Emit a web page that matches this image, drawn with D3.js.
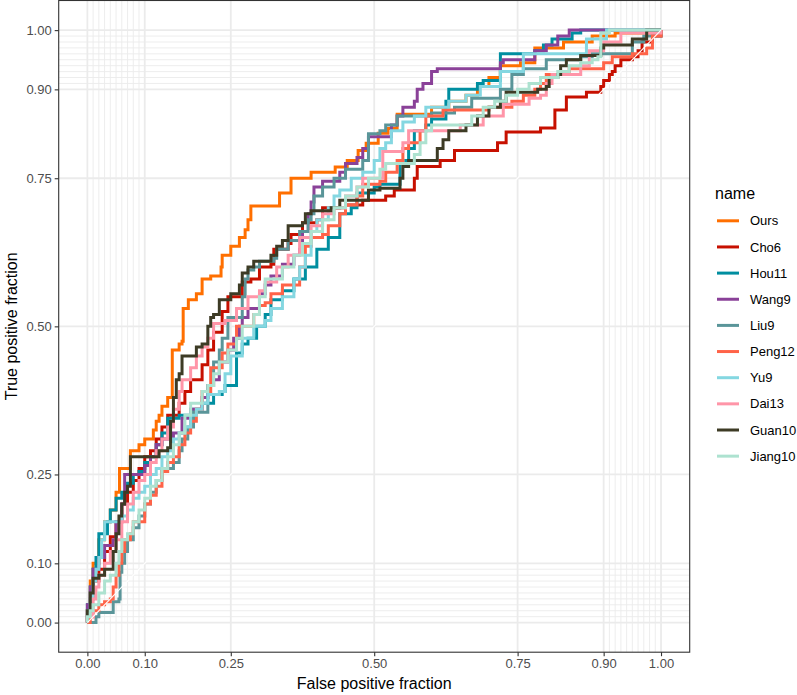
<!DOCTYPE html>
<html><head><meta charset="utf-8">
<script src="https://cdn.jsdelivr.net/npm/d3@7"></script>
<style>body{margin:0;background:#fff}svg{display:block;font-family:"Liberation Sans",Arial,sans-serif}</style>
</head><body><svg id="c" width="797" height="695"></svg>
<script>
const seriesNames = ["Ours","Cho6","Hou11","Wang9","Liu9","Peng12","Yu9","Dai13","Guan10","Jiang10"];
const seriesColors = ["#FF6F00","#C71000","#008EA0","#8A4198","#5A9599","#FF6348","#84D7E1","#FF95A8","#3D3B25","#ADE2D0"];
const majorBreaks = [0,0.1,0.25,0.5,0.75,0.9,1];
const minorBreaks = [0.01,0.02,0.03,0.04,0.05,0.06,0.07,0.08,0.09,0.91,0.92,0.93,0.94,0.95,0.96,0.97,0.98,0.99];

const ours = [[0,0],[0,0.02],[0.005,0.07],[0.01,0.10],[0.02,0.14],[0.03,0.17],[0.04,0.19],[0.05,0.22],[0.056,0.26],[0.075,0.29],[0.09,0.30],[0.1,0.31],[0.115,0.325],[0.12,0.34],[0.125,0.35],[0.13,0.365],[0.14,0.38],[0.148,0.39],[0.148,0.46],[0.16,0.47],[0.165,0.475],[0.167,0.53],[0.176,0.545],[0.19,0.555],[0.2,0.58],[0.215,0.585],[0.233,0.6],[0.235,0.62],[0.25,0.635],[0.265,0.65],[0.275,0.663],[0.28,0.68],[0.285,0.703],[0.33,0.703],[0.335,0.725],[0.35,0.725],[0.355,0.75],[0.385,0.75],[0.39,0.76],[0.432,0.769],[0.453,0.78],[0.472,0.797],[0.486,0.809],[0.507,0.826],[0.524,0.834],[0.54,0.858],[0.568,0.858],[0.6,0.87],[0.63,0.88],[0.66,0.89],[0.68,0.905],[0.70,0.92],[0.72,0.94],[0.755,0.945],[0.78,0.97],[0.83,0.98],[0.88,0.99],[0.92,0.995],[1,1]];
const cho6 = [[0,0],[0,0.02],[0.005,0.04],[0.01,0.07],[0.02,0.09],[0.03,0.12],[0.04,0.145],[0.05,0.17],[0.06,0.2],[0.07,0.22],[0.08,0.24],[0.09,0.26],[0.1,0.28],[0.11,0.29],[0.12,0.31],[0.13,0.33],[0.14,0.35],[0.16,0.37],[0.17,0.39],[0.18,0.41],[0.2,0.435],[0.21,0.46],[0.22,0.49],[0.235,0.525],[0.245,0.55],[0.26,0.55],[0.27,0.575],[0.285,0.58],[0.3,0.6],[0.32,0.605],[0.325,0.63],[0.35,0.64],[0.355,0.655],[0.375,0.675],[0.40,0.68],[0.41,0.70],[0.45,0.705],[0.48,0.713],[0.51,0.713],[0.52,0.72],[0.535,0.73],[0.565,0.73],[0.57,0.75],[0.575,0.77],[0.60,0.77],[0.615,0.78],[0.64,0.797],[0.71,0.797],[0.715,0.81],[0.73,0.828],[0.78,0.828],[0.79,0.835],[0.81,0.835],[0.815,0.865],[0.83,0.865],[0.835,0.887],[0.865,0.887],[0.87,0.895],[0.89,0.895],[0.895,0.905],[0.9,0.915],[0.91,0.925],[0.915,0.93],[0.92,0.94],[0.93,0.95],[0.95,0.955],[0.96,0.965],[0.967,0.98],[0.985,0.99],[1,1]];
const hou11 = [[0,0],[0,0.03],[0.005,0.06],[0.01,0.09],[0.015,0.11],[0.02,0.15],[0.03,0.15],[0.035,0.17],[0.04,0.19],[0.05,0.21],[0.06,0.22],[0.07,0.235],[0.08,0.25],[0.09,0.255],[0.1,0.27],[0.11,0.28],[0.12,0.3],[0.13,0.32],[0.14,0.345],[0.16,0.35],[0.18,0.36],[0.2,0.37],[0.22,0.385],[0.235,0.39],[0.24,0.40],[0.255,0.40],[0.26,0.455],[0.27,0.47],[0.28,0.48],[0.295,0.5],[0.31,0.52],[0.32,0.545],[0.34,0.56],[0.36,0.58],[0.38,0.6],[0.40,0.63],[0.42,0.65],[0.44,0.67],[0.44,0.69],[0.46,0.7],[0.47,0.725],[0.48,0.725],[0.5,0.735],[0.51,0.74],[0.54,0.74],[0.545,0.775],[0.555,0.78],[0.56,0.8],[0.57,0.83],[0.58,0.83],[0.59,0.84],[0.6,0.85],[0.615,0.85],[0.625,0.88],[0.63,0.9],[0.67,0.9],[0.68,0.91],[0.69,0.915],[0.72,0.915],[0.72,0.96],[0.77,0.96],[0.78,0.965],[0.795,0.975],[0.81,0.985],[0.84,0.985],[0.845,0.995],[0.86,1.0],[1,1]];
const wang9 = [[0,0],[0,0.03],[0.005,0.06],[0.01,0.09],[0.02,0.11],[0.03,0.13],[0.045,0.14],[0.05,0.17],[0.06,0.2],[0.065,0.25],[0.085,0.25],[0.1,0.265],[0.11,0.28],[0.12,0.3],[0.13,0.31],[0.15,0.32],[0.165,0.345],[0.18,0.36],[0.2,0.38],[0.21,0.4],[0.22,0.41],[0.23,0.44],[0.245,0.46],[0.255,0.48],[0.265,0.5],[0.27,0.515],[0.28,0.53],[0.3,0.555],[0.31,0.57],[0.32,0.585],[0.34,0.605],[0.36,0.62],[0.37,0.63],[0.375,0.66],[0.385,0.69],[0.39,0.71],[0.395,0.735],[0.41,0.745],[0.435,0.745],[0.44,0.76],[0.45,0.775],[0.47,0.785],[0.48,0.8],[0.49,0.82],[0.52,0.82],[0.53,0.84],[0.54,0.855],[0.55,0.87],[0.57,0.88],[0.575,0.9],[0.585,0.91],[0.60,0.93],[0.61,0.935],[0.70,0.935],[0.72,0.945],[0.725,0.95],[0.77,0.95],[0.78,0.965],[0.8,0.975],[0.82,0.99],[0.84,1.0],[1,1]];
const liu9 = [[0,0],[0.01,0],[0.015,0.01],[0.02,0.017],[0.04,0.017],[0.045,0.035],[0.055,0.04],[0.057,0.085],[0.06,0.1],[0.065,0.12],[0.07,0.14],[0.08,0.16],[0.09,0.18],[0.1,0.2],[0.11,0.22],[0.12,0.24],[0.13,0.26],[0.15,0.27],[0.16,0.29],[0.165,0.31],[0.175,0.33],[0.185,0.355],[0.2,0.355],[0.21,0.4],[0.22,0.44],[0.23,0.46],[0.235,0.48],[0.245,0.515],[0.26,0.515],[0.27,0.55],[0.275,0.58],[0.28,0.595],[0.29,0.6],[0.3,0.61],[0.325,0.615],[0.33,0.63],[0.35,0.645],[0.37,0.66],[0.385,0.68],[0.39,0.69],[0.395,0.72],[0.41,0.735],[0.42,0.735],[0.43,0.75],[0.45,0.765],[0.47,0.765],[0.48,0.78],[0.49,0.80],[0.49,0.825],[0.51,0.83],[0.52,0.84],[0.535,0.84],[0.54,0.855],[0.57,0.855],[0.6,0.86],[0.64,0.87],[0.67,0.885],[0.69,0.885],[0.72,0.9],[0.74,0.925],[0.75,0.925],[0.76,0.935],[0.79,0.935],[0.8,0.95],[0.825,0.95],[0.86,0.955],[0.88,0.96],[0.93,0.96],[0.95,0.98],[0.97,0.99],[1,1]];
const peng12 = [[0,0],[0.005,0.01],[0.01,0.02],[0.02,0.03],[0.03,0.035],[0.04,0.04],[0.045,0.06],[0.05,0.08],[0.055,0.1],[0.06,0.12],[0.065,0.14],[0.075,0.15],[0.08,0.17],[0.09,0.17],[0.1,0.2],[0.11,0.215],[0.12,0.23],[0.13,0.255],[0.14,0.27],[0.15,0.28],[0.16,0.3],[0.17,0.32],[0.18,0.34],[0.19,0.36],[0.2,0.39],[0.215,0.43],[0.23,0.43],[0.235,0.455],[0.245,0.47],[0.26,0.5],[0.28,0.5],[0.29,0.52],[0.3,0.535],[0.31,0.54],[0.32,0.555],[0.34,0.57],[0.36,0.57],[0.37,0.6],[0.38,0.635],[0.39,0.65],[0.41,0.655],[0.42,0.67],[0.44,0.69],[0.45,0.705],[0.47,0.72],[0.48,0.74],[0.51,0.745],[0.52,0.76],[0.54,0.78],[0.55,0.8],[0.56,0.81],[0.58,0.83],[0.59,0.855],[0.61,0.855],[0.62,0.865],[0.67,0.865],[0.7,0.87],[0.74,0.88],[0.76,0.89],[0.78,0.9],[0.79,0.91],[0.8,0.925],[0.82,0.925],[0.84,0.935],[0.89,0.935],[0.9,0.945],[0.915,0.955],[0.93,0.955],[0.95,0.96],[0.975,0.97],[0.985,0.99],[1,1]];
const yu9 = [[0,0],[0,0.02],[0.005,0.04],[0.01,0.07],[0.015,0.09],[0.02,0.11],[0.025,0.14],[0.03,0.17],[0.055,0.17],[0.06,0.18],[0.07,0.19],[0.08,0.21],[0.09,0.22],[0.1,0.23],[0.11,0.25],[0.12,0.26],[0.13,0.28],[0.14,0.29],[0.15,0.31],[0.16,0.32],[0.17,0.33],[0.18,0.35],[0.19,0.36],[0.2,0.37],[0.21,0.385],[0.23,0.39],[0.24,0.42],[0.25,0.45],[0.27,0.48],[0.29,0.5],[0.31,0.51],[0.32,0.53],[0.34,0.55],[0.36,0.58],[0.37,0.6],[0.38,0.62],[0.39,0.66],[0.4,0.68],[0.42,0.7],[0.43,0.72],[0.44,0.73],[0.46,0.75],[0.48,0.76],[0.5,0.78],[0.51,0.8],[0.52,0.81],[0.53,0.83],[0.55,0.845],[0.57,0.855],[0.59,0.87],[0.615,0.87],[0.63,0.88],[0.66,0.89],[0.685,0.905],[0.72,0.905],[0.72,0.93],[0.76,0.93],[0.76,0.96],[0.86,0.96],[0.87,0.985],[0.905,0.985],[0.905,1],[1,1]];
const dai13 = [[0,0],[0,0.01],[0.01,0.04],[0.015,0.06],[0.02,0.08],[0.03,0.1],[0.04,0.12],[0.05,0.14],[0.06,0.17],[0.07,0.2],[0.08,0.22],[0.09,0.24],[0.1,0.25],[0.11,0.27],[0.12,0.29],[0.13,0.31],[0.14,0.33],[0.15,0.36],[0.16,0.39],[0.165,0.41],[0.18,0.43],[0.19,0.45],[0.2,0.465],[0.21,0.48],[0.22,0.505],[0.24,0.51],[0.26,0.53],[0.28,0.55],[0.3,0.56],[0.31,0.575],[0.33,0.6],[0.35,0.62],[0.37,0.65],[0.39,0.67],[0.41,0.69],[0.43,0.7],[0.45,0.72],[0.47,0.735],[0.48,0.75],[0.505,0.75],[0.515,0.795],[0.54,0.795],[0.55,0.81],[0.56,0.83],[0.625,0.83],[0.65,0.84],[0.69,0.855],[0.72,0.855],[0.725,0.875],[0.745,0.875],[0.77,0.885],[0.79,0.89],[0.8,0.91],[0.81,0.925],[0.85,0.925],[0.86,0.94],[0.875,0.965],[0.9,0.965],[0.9,0.98],[0.93,0.98],[0.93,0.995],[1,1]];
const guan10 = [[0,0],[0,0.02],[0.005,0.05],[0.01,0.075],[0.02,0.08],[0.03,0.09],[0.04,0.09],[0.045,0.12],[0.05,0.15],[0.055,0.18],[0.06,0.2],[0.065,0.22],[0.07,0.23],[0.075,0.28],[0.12,0.28],[0.125,0.29],[0.14,0.295],[0.145,0.34],[0.15,0.38],[0.155,0.41],[0.16,0.42],[0.165,0.45],[0.18,0.45],[0.19,0.465],[0.2,0.47],[0.21,0.5],[0.215,0.515],[0.22,0.52],[0.23,0.545],[0.25,0.555],[0.265,0.57],[0.27,0.59],[0.28,0.6],[0.29,0.61],[0.32,0.62],[0.33,0.635],[0.34,0.645],[0.35,0.67],[0.375,0.675],[0.38,0.69],[0.39,0.695],[0.42,0.695],[0.425,0.70],[0.44,0.713],[0.48,0.713],[0.49,0.73],[0.51,0.733],[0.54,0.733],[0.545,0.75],[0.55,0.77],[0.56,0.78],[0.60,0.78],[0.61,0.80],[0.62,0.815],[0.63,0.83],[0.645,0.83],[0.66,0.84],[0.68,0.855],[0.70,0.87],[0.72,0.88],[0.73,0.895],[0.78,0.895],[0.785,0.9],[0.8,0.905],[0.805,0.92],[0.82,0.925],[0.825,0.94],[0.835,0.95],[0.855,0.95],[0.86,0.957],[0.89,0.957],[0.895,0.97],[0.9,0.975],[0.93,0.975],[0.95,0.985],[0.97,0.985],[0.975,1.0],[1,1]];
const jiang10 = [[0,0],[0,0.01],[0.005,0.02],[0.01,0.03],[0.02,0.05],[0.03,0.07],[0.04,0.08],[0.05,0.1],[0.055,0.12],[0.06,0.14],[0.07,0.15],[0.08,0.17],[0.09,0.19],[0.1,0.21],[0.11,0.23],[0.12,0.24],[0.13,0.26],[0.14,0.28],[0.15,0.3],[0.16,0.32],[0.17,0.35],[0.18,0.37],[0.2,0.39],[0.21,0.4],[0.22,0.42],[0.23,0.44],[0.245,0.46],[0.26,0.48],[0.27,0.5],[0.29,0.52],[0.3,0.55],[0.31,0.58],[0.32,0.58],[0.34,0.6],[0.36,0.62],[0.375,0.64],[0.39,0.66],[0.41,0.68],[0.43,0.7],[0.45,0.72],[0.47,0.735],[0.49,0.75],[0.51,0.765],[0.52,0.775],[0.56,0.775],[0.57,0.79],[0.58,0.81],[0.59,0.83],[0.6,0.84],[0.65,0.84],[0.67,0.855],[0.69,0.87],[0.71,0.88],[0.73,0.89],[0.75,0.9],[0.77,0.91],[0.79,0.92],[0.82,0.93],[0.84,0.94],[0.86,0.945],[0.88,0.95],[0.89,0.955],[0.895,0.995],[0.91,1],[1,1]];
const seriesData = [ours,cho6,hou11,wang9,liu9,peng12,yu9,dai13,guan10,jiang10];

const svg = d3.select("#c");
const P = {l:58.7, r:689.7, t:0.5, b:652.2};
const x = d3.scaleLinear().domain([-0.05,1.05]).range([P.l,P.r]);
const y = d3.scaleLinear().domain([-0.05,1.05]).range([P.b,P.t]);

svg.append("rect").attr("x",P.l).attr("y",P.t).attr("width",P.r-P.l).attr("height",P.b-P.t).attr("fill","#fff");
const grid = svg.append("g");
minorBreaks.forEach(v=>{
  grid.append("line").attr("x1",x(v)).attr("x2",x(v)).attr("y1",P.t).attr("y2",P.b).attr("stroke","#ebebeb").attr("stroke-width",0.9);
  grid.append("line").attr("y1",y(v)).attr("y2",y(v)).attr("x1",P.l).attr("x2",P.r).attr("stroke","#ebebeb").attr("stroke-width",0.9);
});
majorBreaks.forEach(v=>{
  grid.append("line").attr("x1",x(v)).attr("x2",x(v)).attr("y1",P.t).attr("y2",P.b).attr("stroke","#ebebeb").attr("stroke-width",1.8);
  grid.append("line").attr("y1",y(v)).attr("y2",y(v)).attr("x1",P.l).attr("x2",P.r).attr("stroke","#ebebeb").attr("stroke-width",1.8);
});

const line = d3.line().x(d=>x(d[0])).y(d=>y(d[1])).curve(d3.curveStepAfter);
seriesData.forEach((s,i)=>{
  svg.append("path").attr("d",line(s)).attr("fill","none").attr("stroke",seriesColors[i]).attr("stroke-width",3).attr("stroke-linejoin","miter");
});
svg.append("line").attr("x1",x(0)).attr("y1",y(0)).attr("x2",x(1)).attr("y2",y(1)).attr("stroke","#ffffff").attr("stroke-width",1.1);

svg.append("rect").attr("x",P.l).attr("y",P.t).attr("width",P.r-P.l).attr("height",P.b-P.t).attr("fill","none").attr("stroke","#333").attr("stroke-width",1.1);

const fmt = d3.format(".2f");
const gx = svg.append("g").attr("transform",`translate(0,${P.b})`).call(d3.axisBottom(x).tickValues(majorBreaks).tickFormat(fmt).tickSize(4).tickPadding(3));
const gy = svg.append("g").attr("transform",`translate(${P.l},0)`).call(d3.axisLeft(y).tickValues(majorBreaks).tickFormat(fmt).tickSize(4).tickPadding(3));
[gx,gy].forEach(g=>{
  g.select(".domain").remove();
  g.selectAll(".tick line").attr("stroke","#333").attr("stroke-width",1.1);
  g.selectAll(".tick text").attr("fill","#4d4d4d").style("font-size","13px").style("font-family","'Liberation Sans',Arial,sans-serif");
});

svg.append("text").attr("x",(x(0)+x(1))/2).attr("y",689).attr("text-anchor","middle").style("font-size","16px").attr("fill","#000").text("False positive fraction");
svg.append("text").attr("transform",`translate(17,${(y(0)+y(1))/2}) rotate(-90)`).attr("text-anchor","middle").style("font-size","16px").attr("fill","#000").text("True positive fraction");

const lg = svg.append("g");
lg.append("text").attr("x",715).attr("y",198.5).style("font-size","16px").attr("fill","#000").text("name");
seriesNames.forEach((n,i)=>{
  const cy = 220.8 + i*26.15;
  lg.append("line").attr("x1",717).attr("x2",739).attr("y1",cy).attr("y2",cy).attr("stroke",seriesColors[i]).attr("stroke-width",3);
  lg.append("text").attr("x",750).attr("y",cy+4.6).style("font-size","13px").attr("fill","#000").text(n);
});
</script></body></html>
